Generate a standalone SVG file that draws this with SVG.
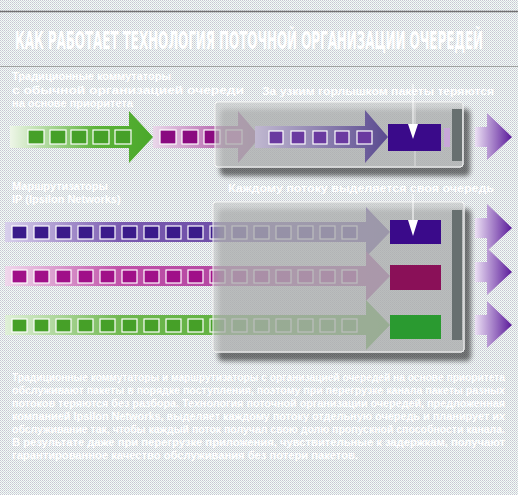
<svg xmlns="http://www.w3.org/2000/svg" width="518" height="495" viewBox="0 0 518 495">
<defs>
<pattern id="dither" width="2" height="2" patternUnits="userSpaceOnUse">
<rect width="2" height="2" fill="#f6f8f8"/>
<rect x="0" y="0" width="1" height="1" fill="#c6c8d2"/>
<rect x="1" y="1" width="1" height="1" fill="#d0dcdc"/>
</pattern>
<linearGradient id="gGreen" x1="0" x2="1" y1="0" y2="0"><stop offset="0" stop-color="#eef6e8"/><stop offset="0.6" stop-color="#5db33a"/><stop offset="1" stop-color="#4aa82a"/></linearGradient>
<linearGradient id="gMag" x1="0" x2="1" y1="0" y2="0"><stop offset="0" stop-color="#ead8ea"/><stop offset="0.7" stop-color="#b05aa8"/><stop offset="1" stop-color="#a04898"/></linearGradient>
<linearGradient id="gPur" x1="0" x2="1" y1="0" y2="0"><stop offset="0" stop-color="#c0b8d0"/><stop offset="1" stop-color="#5a4a90"/></linearGradient>
<linearGradient id="gOut" x1="0" x2="1" y1="0" y2="0"><stop offset="0" stop-color="#ece0f4"/><stop offset="1" stop-color="#5a1a9a"/></linearGradient>
<linearGradient id="gIndLong" x1="0" x2="1" y1="0" y2="0"><stop offset="0" stop-color="#d8d0ec"/><stop offset="0.3" stop-color="#7a5ab0"/><stop offset="1" stop-color="#5a3a9a"/></linearGradient>
<linearGradient id="gMagLong" x1="0" x2="1" y1="0" y2="0"><stop offset="0" stop-color="#f0d8ec"/><stop offset="0.3" stop-color="#c050a8"/><stop offset="1" stop-color="#a03a98"/></linearGradient>
<linearGradient id="gGrnLong" x1="0" x2="1" y1="0" y2="0"><stop offset="0" stop-color="#e0f0d8"/><stop offset="0.3" stop-color="#70b850"/><stop offset="1" stop-color="#4aa82a"/></linearGradient>
<filter id="shadow" x="-10%" y="-10%" width="130%" height="140%">
<feGaussianBlur in="SourceAlpha" stdDeviation="2.5"/>
<feOffset dx="6" dy="8" result="b"/>
<feComponentTransfer><feFuncA type="linear" slope="0.85"/></feComponentTransfer>
<feMerge><feMergeNode/><feMergeNode in="SourceGraphic"/></feMerge>
</filter>
</defs>
<style>
.lbl{font-family:"Liberation Sans",Arial,sans-serif;font-size:11px;fill:#ffffff;font-weight:bold}
.para{font-family:"Liberation Sans",Arial,sans-serif;font-size:10.5px;fill:#ffffff;font-weight:bold}
.title{font-family:"Liberation Sans Narrow","DejaVu Sans Condensed","Liberation Sans",sans-serif;font-size:24px;font-weight:bold;fill:#ffffff}
.sq{stroke:#ffffff;stroke-width:1.2}
.panel{fill:#c4c6c6;fill-opacity:0.6;stroke:#f4f4f4;stroke-width:1}
.bar{fill:#687070}
.notch{fill:#ffffff}
.pin{stroke:#ffffff;stroke-width:1}
</style>
<rect width="518" height="495" fill="url(#dither)"/>
<line x1="0" y1="11.5" x2="518" y2="11.5" stroke="#707070" stroke-width="1.5"/>
<line x1="0" y1="66.5" x2="518" y2="66.5" stroke="#a0a0a0" stroke-width="1.2"/>
<text class="title" x="15" y="49" textLength="468" lengthAdjust="spacingAndGlyphs">КАК РАБОТАЕТ ТЕХНОЛОГИЯ ПОТОЧНОЙ ОРГАНИЗАЦИИ ОЧЕРЕДЕЙ</text>

<g id="label1">
<text class="lbl" x="12" y="80">Традиционные коммутаторы</text>
<text class="lbl" x="12" y="94" textLength="232" lengthAdjust="spacingAndGlyphs">с обычной организацией очереди</text>
<text class="lbl" x="12" y="107">на основе приоритета</text>
<text class="lbl" x="262" y="95" textLength="232" lengthAdjust="spacingAndGlyphs">За узким горлышком пакеты теряются</text>
</g>

<g id="label2">
<text class="lbl" x="12" y="190">Маршрутизаторы</text>
<text class="lbl" x="12" y="203">IP (Ipsilon Networks)</text>
<text class="lbl" x="228" y="192" textLength="266" lengthAdjust="spacingAndGlyphs">Каждому потоку выделяется своя очередь</text>
</g>

<g id="connectors">
<g id="row1-green">
<polygon points="10,126 129,126 129,111 153,137 129,163 129,148 10,148" fill="url(#gGreen)"/>
<g fill="#46a028" class="sq">
<rect x="28" y="130" width="16" height="14"/><rect x="50" y="130" width="16" height="14"/><rect x="71" y="130" width="16" height="14"/><rect x="93" y="130" width="16" height="14"/><rect x="115" y="130" width="16" height="14"/>
</g>
</g>
<g id="row1-magenta">
<polygon points="153,126 238,126 238,111 260,137 238,163 238,148 153,148" fill="url(#gMag)"/>
<g fill="#8a0a80" class="sq">
<rect x="160" y="130" width="16" height="14"/><rect x="182" y="130" width="16" height="14"/><rect x="204" y="130" width="16" height="14"/><rect x="226" y="130" width="16" height="14" fill="#c040a8"/>
</g>
</g>
</g>

<g id="panel1">
<rect x="215" y="102" width="248" height="65" rx="3" class="panel" filter="url(#shadow)"/>
<line x1="415" y1="103" x2="415" y2="166" stroke="#e8e8e8" stroke-width="0.8"/>
<polygon points="255,126 365,126 365,110 388,137 365,163 365,148 255,148" fill="url(#gPur)"/>
<g fill="#6a3aa0" class="sq">
<rect x="269" y="131" width="14" height="13"/><rect x="291" y="131" width="14" height="13"/><rect x="313" y="131" width="14" height="13"/><rect x="335" y="131" width="14" height="13"/><rect x="357" y="131" width="15" height="13"/>
</g>
<rect x="388" y="124" width="53" height="27" fill="#3a0a8a"/>
<line x1="413" y1="84" x2="413" y2="124" class="pin"/>
<polygon points="408,124 418,124 413,139" class="notch"/>
<rect x="444" y="128" width="6" height="19" fill="#c8a8d8"/>
<rect x="452" y="109" width="10" height="52" class="bar"/>
</g>

<g id="out1">
<polygon points="475,127 487,127 487,113 512,137 487,160 487,147 475,147" fill="url(#gOut)"/>
</g>

<g id="rows2">
<g id="rowA">
<polygon points="5,222 366,222 366,207 390,232 366,257 366,242 5,242" fill="url(#gIndLong)"/>
<g fill="#3a1a8a" class="sq">
<rect x="12" y="226" width="15" height="13"/><rect x="34" y="226" width="15" height="13"/><rect x="56" y="226" width="15" height="13"/><rect x="78" y="226" width="15" height="13"/><rect x="100" y="226" width="15" height="13"/><rect x="122" y="226" width="15" height="13"/><rect x="144" y="226" width="15" height="13"/><rect x="166" y="226" width="15" height="13"/><rect x="188" y="226" width="15" height="13"/><rect x="210" y="226" width="15" height="13"/><rect x="232" y="226" width="15" height="13"/><rect x="254" y="226" width="15" height="13"/><rect x="276" y="226" width="15" height="13"/><rect x="298" y="226" width="15" height="13"/><rect x="320" y="226" width="15" height="13"/><rect x="342" y="226" width="15" height="13"/>
</g>
</g>
<g id="rowB">
<polygon points="5,266 366,266 366,251 390,276 366,301 366,286 5,286" fill="url(#gMagLong)"/>
<g fill="#a01088" class="sq">
<rect x="12" y="270" width="15" height="13"/><rect x="34" y="270" width="15" height="13"/><rect x="56" y="270" width="15" height="13"/><rect x="78" y="270" width="15" height="13"/><rect x="100" y="270" width="15" height="13"/><rect x="122" y="270" width="15" height="13"/><rect x="144" y="270" width="15" height="13"/><rect x="166" y="270" width="15" height="13"/><rect x="188" y="270" width="15" height="13"/><rect x="210" y="270" width="15" height="13"/><rect x="232" y="270" width="15" height="13"/><rect x="254" y="270" width="15" height="13"/><rect x="276" y="270" width="15" height="13"/><rect x="298" y="270" width="15" height="13"/><rect x="320" y="270" width="15" height="13"/><rect x="342" y="270" width="15" height="13"/>
</g>
</g>
<g id="rowC">
<polygon points="5,315 366,315 366,300 390,325 366,350 366,335 5,335" fill="url(#gGrnLong)"/>
<g fill="#46a028" class="sq">
<rect x="12" y="319" width="15" height="13"/><rect x="34" y="319" width="15" height="13"/><rect x="56" y="319" width="15" height="13"/><rect x="78" y="319" width="15" height="13"/><rect x="100" y="319" width="15" height="13"/><rect x="122" y="319" width="15" height="13"/><rect x="144" y="319" width="15" height="13"/><rect x="166" y="319" width="15" height="13"/><rect x="188" y="319" width="15" height="13"/><rect x="210" y="319" width="15" height="13"/><rect x="232" y="319" width="15" height="13"/><rect x="254" y="319" width="15" height="13"/><rect x="276" y="319" width="15" height="13"/><rect x="298" y="319" width="15" height="13"/><rect x="320" y="319" width="15" height="13"/><rect x="342" y="319" width="15" height="13"/>
</g>
</g>
</g>

<g id="panel2">
<rect x="213" y="202" width="251" height="150" rx="3" class="panel" filter="url(#shadow)"/>
<rect x="390" y="220" width="51" height="24" fill="#3a0a8a"/>
<line x1="413" y1="194" x2="413" y2="220" class="pin"/>
<polygon points="408,220 418,220 413,236" class="notch"/>
<rect x="390" y="265" width="51" height="25" fill="#8a1058"/>
<rect x="390" y="315" width="51" height="24" fill="#2a9a30"/>
<rect x="452" y="210" width="10" height="130" class="bar"/>
</g>

<g id="out2">
<polygon points="475,218 487,218 487,204 512,228 487,251 487,238 475,238" fill="url(#gOut)"/>
<polygon points="475,262 487,262 487,248 512,272 487,295 487,282 475,282" fill="url(#gOut)"/>
<polygon points="475,315 487,315 487,301 512,325 487,348 487,335 475,335" fill="url(#gOut)"/>
</g>

<g id="paragraph">
<text class="para" x="12" y="381" textLength="493" lengthAdjust="spacingAndGlyphs">Традиционные коммутаторы и маршрутизаторы с организацией очередей на основе приоритета</text>
<text class="para" x="12" y="394" textLength="493" lengthAdjust="spacingAndGlyphs">обслуживают пакеты в порядке поступления, поэтому при перегрузке канала пакеты разных</text>
<text class="para" x="12" y="407" textLength="493" lengthAdjust="spacingAndGlyphs">потоков теряются без разбора. Технология поточной организации очередей, предложенная</text>
<text class="para" x="12" y="420" textLength="493" lengthAdjust="spacingAndGlyphs">компанией Ipsilon Networks, выделяет каждому потоку отдельную очередь и планирует их</text>
<text class="para" x="12" y="433" textLength="493" lengthAdjust="spacingAndGlyphs">обслуживание так, чтобы каждый поток получал свою долю пропускной способности канала.</text>
<text class="para" x="12" y="446" textLength="493" lengthAdjust="spacingAndGlyphs">В результате даже при перегрузке приложения, чувствительные к задержкам, получают</text>
<text class="para" x="12" y="459" textLength="346" lengthAdjust="spacingAndGlyphs">гарантированное качество обслуживания без потери пакетов.</text>
</g>
</svg>
